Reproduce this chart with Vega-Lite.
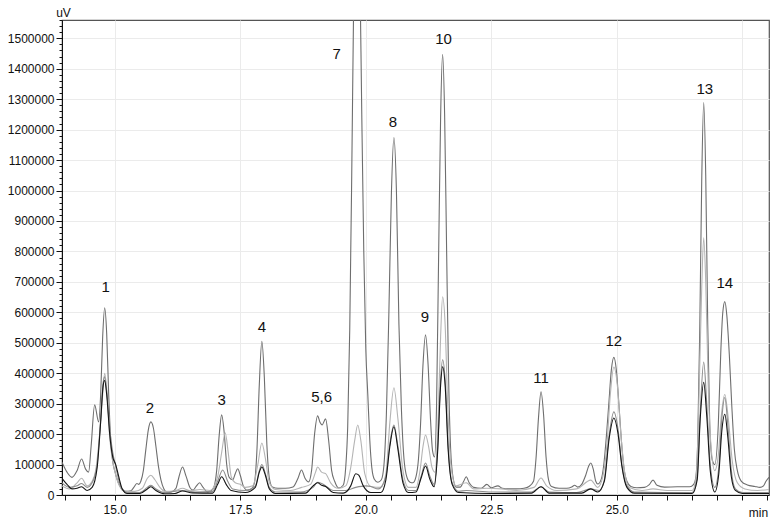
{
"$schema": "https://vega.github.io/schema/vega-lite/v6.json",
"width": 707, "height": 475,
"autosize": {"type": "none"},
"padding": {"left": 62, "top": 20, "right": 10, "bottom": 33},
"background": "white",
"config": {"view": {"stroke": "#555555", "strokeWidth": 1.2}, "font": "Liberation Sans"},
"datasets": {
"trace": [
{"s":"A","t":13.95,"v":108000},{"s":"A","t":14.05,"v":75000},{"s":"A","t":14.15,"v":58000},{"s":"A","t":14.25,"v":80000},{"s":"A","t":14.34,"v":118000},{"s":"A","t":14.42,"v":85000},{"s":"A","t":14.48,"v":75000},{"s":"A","t":14.53,"v":160000},{"s":"A","t":14.60,"v":296000},{"s":"A","t":14.68,"v":240000},{"s":"A","t":14.72,"v":330000},{"s":"A","t":14.76,"v":520000},{"s":"A","t":14.80,"v":615000},{"s":"A","t":14.84,"v":530000},{"s":"A","t":14.88,"v":330000},{"s":"A","t":14.92,"v":180000},{"s":"A","t":14.96,"v":110000},{"s":"A","t":15.00,"v":80000},{"s":"A","t":15.05,"v":50000},{"s":"A","t":15.10,"v":30000},{"s":"A","t":15.15,"v":18000},{"s":"A","t":15.22,"v":12000},{"s":"A","t":15.32,"v":14000},{"s":"A","t":15.38,"v":25000},{"s":"A","t":15.44,"v":38000},{"s":"A","t":15.48,"v":35000},{"s":"A","t":15.52,"v":45000},{"s":"A","t":15.57,"v":80000},{"s":"A","t":15.62,"v":150000},{"s":"A","t":15.67,"v":215000},{"s":"A","t":15.72,"v":240000},{"s":"A","t":15.77,"v":220000},{"s":"A","t":15.82,"v":160000},{"s":"A","t":15.87,"v":95000},{"s":"A","t":15.92,"v":50000},{"s":"A","t":15.98,"v":20000},{"s":"A","t":16.05,"v":8000},{"s":"A","t":16.13,"v":10000},{"s":"A","t":16.22,"v":22000},{"s":"A","t":16.28,"v":60000},{"s":"A","t":16.35,"v":92000},{"s":"A","t":16.42,"v":62000},{"s":"A","t":16.50,"v":24000},{"s":"A","t":16.56,"v":16000},{"s":"A","t":16.62,"v":28000},{"s":"A","t":16.69,"v":40000},{"s":"A","t":16.76,"v":25000},{"s":"A","t":16.85,"v":10000},{"s":"A","t":16.93,"v":15000},{"s":"A","t":16.98,"v":28000},{"s":"A","t":17.03,"v":80000},{"s":"A","t":17.08,"v":195000},{"s":"A","t":17.13,"v":263000},{"s":"A","t":17.18,"v":205000},{"s":"A","t":17.23,"v":100000},{"s":"A","t":17.28,"v":58000},{"s":"A","t":17.35,"v":50000},{"s":"A","t":17.40,"v":70000},{"s":"A","t":17.45,"v":86000},{"s":"A","t":17.50,"v":65000},{"s":"A","t":17.56,"v":30000},{"s":"A","t":17.64,"v":16000},{"s":"A","t":17.72,"v":20000},{"s":"A","t":17.78,"v":38000},{"s":"A","t":17.83,"v":140000},{"s":"A","t":17.88,"v":365000},{"s":"A","t":17.93,"v":505000},{"s":"A","t":17.98,"v":385000},{"s":"A","t":18.03,"v":165000},{"s":"A","t":18.08,"v":55000},{"s":"A","t":18.14,"v":26000},{"s":"A","t":18.25,"v":22000},{"s":"A","t":18.40,"v":22000},{"s":"A","t":18.55,"v":26000},{"s":"A","t":18.65,"v":55000},{"s":"A","t":18.72,"v":82000},{"s":"A","t":18.79,"v":55000},{"s":"A","t":18.86,"v":43000},{"s":"A","t":18.92,"v":80000},{"s":"A","t":18.98,"v":200000},{"s":"A","t":19.04,"v":260000},{"s":"A","t":19.09,"v":238000},{"s":"A","t":19.13,"v":230000},{"s":"A","t":19.20,"v":250000},{"s":"A","t":19.26,"v":180000},{"s":"A","t":19.32,"v":80000},{"s":"A","t":19.38,"v":45000},{"s":"A","t":19.46,"v":23000},{"s":"A","t":19.55,"v":32000},{"s":"A","t":19.60,"v":90000},{"s":"A","t":19.64,"v":225000},{"s":"A","t":19.68,"v":540000},{"s":"A","t":19.72,"v":1050000},{"s":"A","t":19.76,"v":1640000},{"s":"A","t":19.80,"v":2040000},{"s":"A","t":19.84,"v":2040000},{"s":"A","t":19.88,"v":1750000},{"s":"A","t":19.92,"v":1250000},{"s":"A","t":19.96,"v":800000},{"s":"A","t":20.00,"v":480000},{"s":"A","t":20.04,"v":330000},{"s":"A","t":20.08,"v":180000},{"s":"A","t":20.12,"v":90000},{"s":"A","t":20.17,"v":52000},{"s":"A","t":20.24,"v":42000},{"s":"A","t":20.31,"v":50000},{"s":"A","t":20.36,"v":95000},{"s":"A","t":20.41,"v":265000},{"s":"A","t":20.46,"v":600000},{"s":"A","t":20.51,"v":990000},{"s":"A","t":20.56,"v":1174000},{"s":"A","t":20.61,"v":1000000},{"s":"A","t":20.66,"v":560000},{"s":"A","t":20.71,"v":280000},{"s":"A","t":20.76,"v":120000},{"s":"A","t":20.82,"v":58000},{"s":"A","t":20.88,"v":42000},{"s":"A","t":20.94,"v":40000},{"s":"A","t":21.00,"v":60000},{"s":"A","t":21.05,"v":120000},{"s":"A","t":21.09,"v":230000},{"s":"A","t":21.14,"v":430000},{"s":"A","t":21.19,"v":526000},{"s":"A","t":21.24,"v":430000},{"s":"A","t":21.29,"v":245000},{"s":"A","t":21.33,"v":145000},{"s":"A","t":21.37,"v":125000},{"s":"A","t":21.41,"v":300000},{"s":"A","t":21.45,"v":780000},{"s":"A","t":21.49,"v":1240000},{"s":"A","t":21.53,"v":1447000},{"s":"A","t":21.57,"v":1250000},{"s":"A","t":21.61,"v":800000},{"s":"A","t":21.65,"v":380000},{"s":"A","t":21.69,"v":150000},{"s":"A","t":21.74,"v":55000},{"s":"A","t":21.80,"v":26000},{"s":"A","t":21.88,"v":26000},{"s":"A","t":21.95,"v":45000},{"s":"A","t":22.00,"v":60000},{"s":"A","t":22.06,"v":40000},{"s":"A","t":22.15,"v":25000},{"s":"A","t":22.30,"v":22000},{"s":"A","t":22.41,"v":35000},{"s":"A","t":22.50,"v":24000},{"s":"A","t":22.63,"v":30000},{"s":"A","t":22.72,"v":22000},{"s":"A","t":22.85,"v":20000},{"s":"A","t":23.00,"v":20000},{"s":"A","t":23.15,"v":22000},{"s":"A","t":23.25,"v":28000},{"s":"A","t":23.34,"v":45000},{"s":"A","t":23.39,"v":120000},{"s":"A","t":23.44,"v":255000},{"s":"A","t":23.49,"v":339000},{"s":"A","t":23.54,"v":265000},{"s":"A","t":23.59,"v":125000},{"s":"A","t":23.64,"v":50000},{"s":"A","t":23.70,"v":28000},{"s":"A","t":23.85,"v":22000},{"s":"A","t":24.00,"v":22000},{"s":"A","t":24.10,"v":26000},{"s":"A","t":24.16,"v":32000},{"s":"A","t":24.22,"v":26000},{"s":"A","t":24.30,"v":35000},{"s":"A","t":24.38,"v":65000},{"s":"A","t":24.44,"v":95000},{"s":"A","t":24.48,"v":105000},{"s":"A","t":24.53,"v":85000},{"s":"A","t":24.58,"v":45000},{"s":"A","t":24.62,"v":36000},{"s":"A","t":24.69,"v":52000},{"s":"A","t":24.74,"v":100000},{"s":"A","t":24.79,"v":190000},{"s":"A","t":24.84,"v":300000},{"s":"A","t":24.89,"v":410000},{"s":"A","t":24.94,"v":452000},{"s":"A","t":24.99,"v":410000},{"s":"A","t":25.04,"v":300000},{"s":"A","t":25.09,"v":180000},{"s":"A","t":25.14,"v":90000},{"s":"A","t":25.20,"v":45000},{"s":"A","t":25.28,"v":28000},{"s":"A","t":25.40,"v":24000},{"s":"A","t":25.55,"v":25000},{"s":"A","t":25.64,"v":33000},{"s":"A","t":25.72,"v":49000},{"s":"A","t":25.80,"v":32000},{"s":"A","t":25.95,"v":26000},{"s":"A","t":26.20,"v":27000},{"s":"A","t":26.45,"v":27000},{"s":"A","t":26.53,"v":35000},{"s":"A","t":26.57,"v":55000},{"s":"A","t":26.61,"v":175000},{"s":"A","t":26.65,"v":530000},{"s":"A","t":26.69,"v":1030000},{"s":"A","t":26.73,"v":1289000},{"s":"A","t":26.77,"v":1050000},{"s":"A","t":26.81,"v":560000},{"s":"A","t":26.85,"v":230000},{"s":"A","t":26.90,"v":115000},{"s":"A","t":26.95,"v":100000},{"s":"A","t":27.02,"v":230000},{"s":"A","t":27.07,"v":470000},{"s":"A","t":27.11,"v":600000},{"s":"A","t":27.15,"v":635000},{"s":"A","t":27.19,"v":590000},{"s":"A","t":27.24,"v":460000},{"s":"A","t":27.29,"v":290000},{"s":"A","t":27.34,"v":150000},{"s":"A","t":27.40,"v":80000},{"s":"A","t":27.48,"v":45000},{"s":"A","t":27.60,"v":33000},{"s":"A","t":27.75,"v":28000},{"s":"A","t":27.85,"v":25000},{"s":"A","t":27.92,"v":30000},{"s":"A","t":27.97,"v":45000},{"s":"A","t":28.03,"v":58000},

{"s":"B","t":13.95,"v":30000},{"s":"B","t":14.10,"v":20000},{"s":"B","t":14.25,"v":40000},{"s":"B","t":14.34,"v":55000},{"s":"B","t":14.45,"v":30000},{"s":"B","t":14.55,"v":45000},{"s":"B","t":14.62,"v":80000},{"s":"B","t":14.70,"v":200000},{"s":"B","t":14.76,"v":330000},{"s":"B","t":14.80,"v":400000},{"s":"B","t":14.85,"v":330000},{"s":"B","t":14.90,"v":190000},{"s":"B","t":14.96,"v":110000},{"s":"B","t":15.03,"v":60000},{"s":"B","t":15.10,"v":28000},{"s":"B","t":15.20,"v":12000},{"s":"B","t":15.40,"v":12000},{"s":"B","t":15.55,"v":22000},{"s":"B","t":15.65,"v":55000},{"s":"B","t":15.72,"v":65000},{"s":"B","t":15.80,"v":50000},{"s":"B","t":15.90,"v":25000},{"s":"B","t":16.00,"v":12000},{"s":"B","t":16.20,"v":14000},{"s":"B","t":16.35,"v":22000},{"s":"B","t":16.50,"v":14000},{"s":"B","t":16.70,"v":18000},{"s":"B","t":16.90,"v":15000},{"s":"B","t":17.05,"v":60000},{"s":"B","t":17.13,"v":140000},{"s":"B","t":17.20,"v":204000},{"s":"B","t":17.26,"v":140000},{"s":"B","t":17.32,"v":60000},{"s":"B","t":17.40,"v":40000},{"s":"B","t":17.50,"v":35000},{"s":"B","t":17.60,"v":25000},{"s":"B","t":17.75,"v":30000},{"s":"B","t":17.85,"v":100000},{"s":"B","t":17.93,"v":171000},{"s":"B","t":18.00,"v":120000},{"s":"B","t":18.08,"v":40000},{"s":"B","t":18.20,"v":18000},{"s":"B","t":18.50,"v":15000},{"s":"B","t":18.72,"v":25000},{"s":"B","t":18.90,"v":35000},{"s":"B","t":19.00,"v":75000},{"s":"B","t":19.04,"v":92000},{"s":"B","t":19.12,"v":75000},{"s":"B","t":19.20,"v":70000},{"s":"B","t":19.30,"v":40000},{"s":"B","t":19.45,"v":22000},{"s":"B","t":19.60,"v":30000},{"s":"B","t":19.70,"v":90000},{"s":"B","t":19.78,"v":180000},{"s":"B","t":19.84,"v":230000},{"s":"B","t":19.90,"v":180000},{"s":"B","t":19.98,"v":70000},{"s":"B","t":20.10,"v":28000},{"s":"B","t":20.30,"v":25000},{"s":"B","t":20.40,"v":70000},{"s":"B","t":20.48,"v":240000},{"s":"B","t":20.56,"v":352000},{"s":"B","t":20.64,"v":250000},{"s":"B","t":20.74,"v":80000},{"s":"B","t":20.85,"v":25000},{"s":"B","t":21.00,"v":25000},{"s":"B","t":21.08,"v":80000},{"s":"B","t":21.14,"v":160000},{"s":"B","t":21.19,"v":197000},{"s":"B","t":21.25,"v":160000},{"s":"B","t":21.32,"v":90000},{"s":"B","t":21.38,"v":75000},{"s":"B","t":21.44,"v":250000},{"s":"B","t":21.49,"v":520000},{"s":"B","t":21.53,"v":651000},{"s":"B","t":21.58,"v":560000},{"s":"B","t":21.63,"v":300000},{"s":"B","t":21.70,"v":90000},{"s":"B","t":21.80,"v":30000},{"s":"B","t":22.00,"v":40000},{"s":"B","t":22.15,"v":20000},{"s":"B","t":22.40,"v":22000},{"s":"B","t":22.70,"v":20000},{"s":"B","t":23.00,"v":15000},{"s":"B","t":23.35,"v":25000},{"s":"B","t":23.49,"v":56000},{"s":"B","t":23.60,"v":30000},{"s":"B","t":23.80,"v":15000},{"s":"B","t":24.20,"v":20000},{"s":"B","t":24.48,"v":49000},{"s":"B","t":24.62,"v":25000},{"s":"B","t":24.72,"v":60000},{"s":"B","t":24.80,"v":160000},{"s":"B","t":24.87,"v":330000},{"s":"B","t":24.94,"v":420000},{"s":"B","t":25.01,"v":360000},{"s":"B","t":25.08,"v":200000},{"s":"B","t":25.16,"v":70000},{"s":"B","t":25.25,"v":25000},{"s":"B","t":25.50,"v":15000},{"s":"B","t":25.72,"v":20000},{"s":"B","t":26.00,"v":15000},{"s":"B","t":26.50,"v":15000},{"s":"B","t":26.58,"v":60000},{"s":"B","t":26.64,"v":350000},{"s":"B","t":26.69,"v":680000},{"s":"B","t":26.73,"v":845000},{"s":"B","t":26.77,"v":700000},{"s":"B","t":26.82,"v":360000},{"s":"B","t":26.88,"v":150000},{"s":"B","t":26.95,"v":80000},{"s":"B","t":27.02,"v":130000},{"s":"B","t":27.08,"v":260000},{"s":"B","t":27.15,"v":330000},{"s":"B","t":27.22,"v":250000},{"s":"B","t":27.30,"v":110000},{"s":"B","t":27.40,"v":40000},{"s":"B","t":27.55,"v":20000},{"s":"B","t":27.80,"v":15000},{"s":"B","t":28.03,"v":18000},

{"s":"C","t":13.95,"v":40000},{"s":"C","t":14.10,"v":25000},{"s":"C","t":14.25,"v":30000},{"s":"C","t":14.34,"v":38000},{"s":"C","t":14.45,"v":25000},{"s":"C","t":14.55,"v":40000},{"s":"C","t":14.65,"v":100000},{"s":"C","t":14.72,"v":250000},{"s":"C","t":14.77,"v":370000},{"s":"C","t":14.80,"v":388000},{"s":"C","t":14.84,"v":340000},{"s":"C","t":14.90,"v":220000},{"s":"C","t":14.96,"v":140000},{"s":"C","t":15.02,"v":95000},{"s":"C","t":15.08,"v":50000},{"s":"C","t":15.15,"v":20000},{"s":"C","t":15.25,"v":8000},{"s":"C","t":15.50,"v":8000},{"s":"C","t":15.65,"v":25000},{"s":"C","t":15.72,"v":32000},{"s":"C","t":15.82,"v":20000},{"s":"C","t":16.00,"v":8000},{"s":"C","t":16.35,"v":15000},{"s":"C","t":16.60,"v":10000},{"s":"C","t":16.95,"v":12000},{"s":"C","t":17.05,"v":45000},{"s":"C","t":17.15,"v":82000},{"s":"C","t":17.25,"v":45000},{"s":"C","t":17.35,"v":20000},{"s":"C","t":17.60,"v":15000},{"s":"C","t":17.80,"v":30000},{"s":"C","t":17.88,"v":80000},{"s":"C","t":17.93,"v":100000},{"s":"C","t":18.00,"v":70000},{"s":"C","t":18.08,"v":25000},{"s":"C","t":18.20,"v":10000},{"s":"C","t":18.70,"v":10000},{"s":"C","t":18.95,"v":25000},{"s":"C","t":19.04,"v":42000},{"s":"C","t":19.12,"v":38000},{"s":"C","t":19.20,"v":30000},{"s":"C","t":19.35,"v":15000},{"s":"C","t":19.60,"v":15000},{"s":"C","t":19.80,"v":25000},{"s":"C","t":20.00,"v":30000},{"s":"C","t":20.10,"v":28000},{"s":"C","t":20.25,"v":20000},{"s":"C","t":20.40,"v":60000},{"s":"C","t":20.48,"v":170000},{"s":"C","t":20.56,"v":230000},{"s":"C","t":20.64,"v":160000},{"s":"C","t":20.74,"v":50000},{"s":"C","t":20.85,"v":15000},{"s":"C","t":21.00,"v":15000},{"s":"C","t":21.10,"v":60000},{"s":"C","t":21.19,"v":105000},{"s":"C","t":21.28,"v":60000},{"s":"C","t":21.36,"v":35000},{"s":"C","t":21.43,"v":150000},{"s":"C","t":21.49,"v":380000},{"s":"C","t":21.53,"v":444000},{"s":"C","t":21.58,"v":380000},{"s":"C","t":21.64,"v":160000},{"s":"C","t":21.72,"v":40000},{"s":"C","t":21.85,"v":12000},{"s":"C","t":22.00,"v":15000},{"s":"C","t":22.50,"v":10000},{"s":"C","t":23.30,"v":10000},{"s":"C","t":23.49,"v":27000},{"s":"C","t":23.65,"v":10000},{"s":"C","t":24.20,"v":8000},{"s":"C","t":24.48,"v":20000},{"s":"C","t":24.65,"v":15000},{"s":"C","t":24.75,"v":50000},{"s":"C","t":24.85,"v":200000},{"s":"C","t":24.94,"v":273000},{"s":"C","t":25.02,"v":220000},{"s":"C","t":25.10,"v":100000},{"s":"C","t":25.20,"v":30000},{"s":"C","t":25.35,"v":10000},{"s":"C","t":26.50,"v":8000},{"s":"C","t":26.60,"v":60000},{"s":"C","t":26.66,"v":270000},{"s":"C","t":26.73,"v":437000},{"s":"C","t":26.79,"v":300000},{"s":"C","t":26.86,"v":100000},{"s":"C","t":26.95,"v":25000},{"s":"C","t":27.03,"v":90000},{"s":"C","t":27.09,"v":250000},{"s":"C","t":27.15,"v":320000},{"s":"C","t":27.21,"v":230000},{"s":"C","t":27.28,"v":80000},{"s":"C","t":27.36,"v":20000},{"s":"C","t":27.50,"v":8000},{"s":"C","t":28.03,"v":8000},

{"s":"D","t":13.95,"v":55000},{"s":"D","t":14.05,"v":35000},{"s":"D","t":14.15,"v":20000},{"s":"D","t":14.25,"v":22000},{"s":"D","t":14.34,"v":27000},{"s":"D","t":14.45,"v":15000},{"s":"D","t":14.55,"v":25000},{"s":"D","t":14.65,"v":90000},{"s":"D","t":14.72,"v":240000},{"s":"D","t":14.77,"v":360000},{"s":"D","t":14.80,"v":376000},{"s":"D","t":14.84,"v":330000},{"s":"D","t":14.90,"v":200000},{"s":"D","t":14.96,"v":125000},{"s":"D","t":15.02,"v":100000},{"s":"D","t":15.08,"v":60000},{"s":"D","t":15.15,"v":20000},{"s":"D","t":15.25,"v":5000},{"s":"D","t":15.50,"v":5000},{"s":"D","t":15.65,"v":20000},{"s":"D","t":15.72,"v":27000},{"s":"D","t":15.82,"v":15000},{"s":"D","t":16.00,"v":4000},{"s":"D","t":16.20,"v":5000},{"s":"D","t":16.35,"v":13000},{"s":"D","t":16.55,"v":7000},{"s":"D","t":16.95,"v":6000},{"s":"D","t":17.05,"v":35000},{"s":"D","t":17.13,"v":60000},{"s":"D","t":17.22,"v":35000},{"s":"D","t":17.32,"v":15000},{"s":"D","t":17.60,"v":8000},{"s":"D","t":17.80,"v":25000},{"s":"D","t":17.88,"v":75000},{"s":"D","t":17.93,"v":92000},{"s":"D","t":18.00,"v":65000},{"s":"D","t":18.08,"v":20000},{"s":"D","t":18.20,"v":5000},{"s":"D","t":18.80,"v":6000},{"s":"D","t":18.95,"v":30000},{"s":"D","t":19.04,"v":40000},{"s":"D","t":19.12,"v":32000},{"s":"D","t":19.20,"v":28000},{"s":"D","t":19.35,"v":8000},{"s":"D","t":19.55,"v":6000},{"s":"D","t":19.70,"v":30000},{"s":"D","t":19.80,"v":70000},{"s":"D","t":19.86,"v":65000},{"s":"D","t":19.95,"v":30000},{"s":"D","t":20.10,"v":8000},{"s":"D","t":20.30,"v":8000},{"s":"D","t":20.40,"v":50000},{"s":"D","t":20.48,"v":160000},{"s":"D","t":20.56,"v":224000},{"s":"D","t":20.64,"v":150000},{"s":"D","t":20.74,"v":40000},{"s":"D","t":20.85,"v":8000},{"s":"D","t":21.00,"v":10000},{"s":"D","t":21.10,"v":55000},{"s":"D","t":21.19,"v":95000},{"s":"D","t":21.28,"v":50000},{"s":"D","t":21.36,"v":27000},{"s":"D","t":21.43,"v":140000},{"s":"D","t":21.49,"v":360000},{"s":"D","t":21.53,"v":421000},{"s":"D","t":21.58,"v":360000},{"s":"D","t":21.64,"v":150000},{"s":"D","t":21.72,"v":35000},{"s":"D","t":21.85,"v":8000},{"s":"D","t":22.50,"v":5000},{"s":"D","t":23.30,"v":6000},{"s":"D","t":23.49,"v":27000},{"s":"D","t":23.65,"v":6000},{"s":"D","t":24.30,"v":6000},{"s":"D","t":24.48,"v":20000},{"s":"D","t":24.62,"v":10000},{"s":"D","t":24.75,"v":45000},{"s":"D","t":24.85,"v":190000},{"s":"D","t":24.94,"v":253000},{"s":"D","t":25.02,"v":205000},{"s":"D","t":25.10,"v":95000},{"s":"D","t":25.20,"v":25000},{"s":"D","t":25.35,"v":6000},{"s":"D","t":26.50,"v":5000},{"s":"D","t":26.60,"v":50000},{"s":"D","t":26.66,"v":250000},{"s":"D","t":26.73,"v":370000},{"s":"D","t":26.79,"v":260000},{"s":"D","t":26.86,"v":80000},{"s":"D","t":26.95,"v":10000},{"s":"D","t":27.03,"v":70000},{"s":"D","t":27.09,"v":210000},{"s":"D","t":27.15,"v":265000},{"s":"D","t":27.21,"v":190000},{"s":"D","t":27.28,"v":60000},{"s":"D","t":27.36,"v":15000},{"s":"D","t":27.50,"v":5000},{"s":"D","t":28.03,"v":5000}
],
"labels": [
{"label":"1","t":14.82,"v":684000},{"label":"2","t":15.70,"v":286000},{"label":"3","t":17.13,"v":312000},{"label":"4","t":17.93,"v":553000},{"label":"5,6","t":19.12,"v":322000},{"label":"7","t":19.42,"v":1447000},{"label":"8","t":20.54,"v":1224000},{"label":"9","t":21.18,"v":586000},{"label":"10","t":21.55,"v":1497000},{"label":"11","t":23.49,"v":385000},{"label":"12","t":24.94,"v":507000},{"label":"13","t":26.75,"v":1332000},{"label":"14","t":27.15,"v":697000}
]
},
"layer": [
{
"data": {"name": "trace"},
"mark": {"type": "line", "clip": true, "interpolate": "monotone", "strokeWidth": 1.1},
"encoding": {
"x": {"field": "t", "type": "quantitative",
"scale": {"domain": [13.95, 28.03], "nice": false, "zero": false},
"axis": {"values": [14,14.5,15,15.5,16,16.5,17,17.5,18,18.5,19,19.5,20,20.5,21,21.5,22,22.5,23,23.5,24,24.5,25,25.5,26,26.5,27,27.5,28],
"tickCount": 200,
"format": ".1f", "labelExpr": "(datum.value % 2.5 === 0 && datum.value < 27) ? datum.label : ''",
"labelOverlap": false, "labelFlush": false, "labelFontSize": 12, "labelColor": "#111111", "labelPadding": 4,
"tickSize": 5, "tickColor": "#111111", "domainColor": "#111111",
"grid": true, "gridColor": {"condition": {"test": "datum.value % 2.5 === 0", "value": "#ebebeb"}, "value": "transparent"},
"title": "min", "titleX": 696, "titleY": 17, "titleAlign": "center", "titleBaseline": "middle",
"titleFontWeight": "normal", "titleFontSize": 12, "titleColor": "#111111"}},
"y": {"field": "v", "type": "quantitative",
"scale": {"domain": [0, 1560000], "nice": false},
"axis": {"values": [0,20000,40000,60000,80000,100000,120000,140000,160000,180000,200000,220000,240000,260000,280000,300000,320000,340000,360000,380000,400000,420000,440000,460000,480000,500000,520000,540000,560000,580000,600000,620000,640000,660000,680000,700000,720000,740000,760000,780000,800000,820000,840000,860000,880000,900000,920000,940000,960000,980000,1000000,1020000,1040000,1060000,1080000,1100000,1120000,1140000,1160000,1180000,1200000,1220000,1240000,1260000,1280000,1300000,1320000,1340000,1360000,1380000,1400000,1420000,1440000,1460000,1480000,1500000,1520000,1540000,1560000],
"tickCount": 200,
"format": "d", "labelExpr": "datum.value % 100000 === 0 ? datum.label : ''",
"labelOverlap": false, "labelFontSize": 12, "labelColor": "#111111", "labelPadding": 2,
"tickSize": {"condition": {"test": "datum.value % 100000 === 0", "value": 6}, "value": 3},
"tickColor": "#111111", "domainColor": "#111111",
"grid": true, "gridColor": {"condition": {"test": "datum.value % 100000 === 0", "value": "#ebebeb"}, "value": "transparent"},
"title": "uV", "titleAngle": 0, "titleX": 1, "titleY": -4, "titleAlign": "center", "titleBaseline": "alphabetic",
"titleFontWeight": "normal", "titleFontSize": 12, "titleColor": "#111111"}},
"color": {"field": "s", "type": "nominal", "legend": null,
"scale": {"domain": ["A","B","C","D"], "range": ["#6e6e6e","#b4b4b4","#8c8c8c","#151515"]}}
}
},
{
"data": {"name": "labels"},
"mark": {"type": "text", "fontSize": 15, "font": "Liberation Sans", "color": "#111111", "align": "center", "baseline": "middle"},
"encoding": {
"x": {"field": "t", "type": "quantitative"},
"y": {"field": "v", "type": "quantitative"},
"text": {"field": "label"}
}
}
]
}
